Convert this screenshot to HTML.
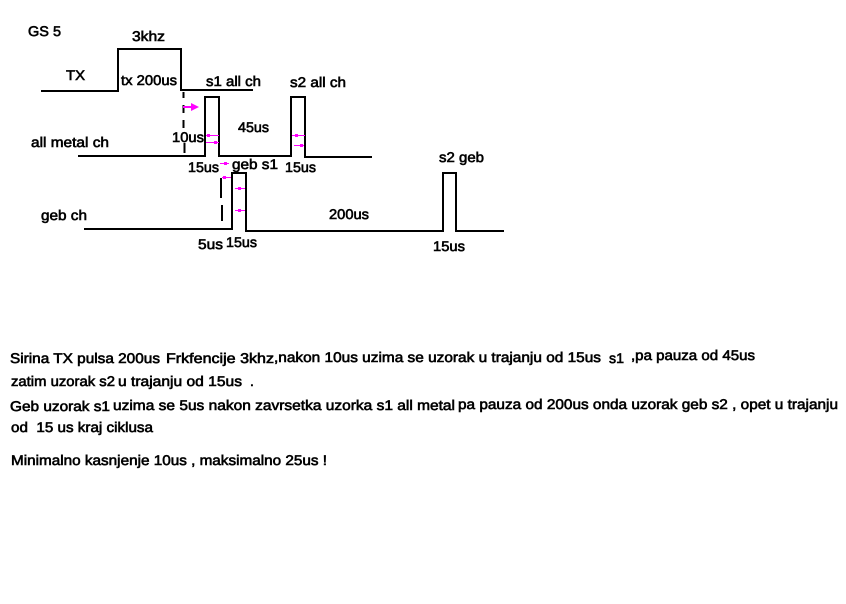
<!DOCTYPE html>
<html>
<head>
<meta charset="utf-8">
<style>
html,body{margin:0;padding:0;background:#fff;width:846px;height:604px;overflow:hidden}
svg{display:block}
text{font-family:"Liberation Sans",Arial,sans-serif;font-size:14px;fill:#000;stroke:#000;stroke-width:.6px;white-space:pre;text-rendering:geometricPrecision}
.l{fill:none;stroke:#000;stroke-width:2}
.d{stroke:#000;stroke-width:2}
.m{fill:none;stroke:#f0f;stroke-width:1}
.t{fill:#f0f;stroke:none}
</style>
</head>
<body>
<svg width="846" height="604" viewBox="0 0 846 604" xmlns="http://www.w3.org/2000/svg">
<rect width="846" height="604" fill="#fff"/>
<!-- waveforms -->
<polyline class="l" points="41,91 118,91 118,49 181,49 181,90 253,90"/>
<polyline class="l" points="78,156 205,156 205,97 219,97 219,156 291,156 291,97 305,97 305,157 372,157"/>
<polyline class="l" points="84,229 232,229 232,173 246,173 246,231 443,231 443,173 456,173 456,231 504,231"/>
<!-- dashed -->
<line class="d" x1="183.500" y1="92" x2="183.500" y2="98"/>
<line class="d" x1="183.500" y1="105" x2="183.500" y2="113"/>
<line class="d" x1="183.500" y1="120" x2="183.500" y2="128"/>
<line class="d" x1="184.500" y1="143" x2="184.500" y2="153"/>
<line class="d" x1="221" y1="178" x2="221" y2="198"/>
<line class="d" x1="222" y1="205" x2="222" y2="221"/>
<!-- magenta marks -->
<line x1="183" y1="107" x2="197" y2="107" stroke="#f0f" stroke-width="2"/>
<polygon class="t" points="191,103 199,107 191,111"/>
<line class="m" x1="206" y1="135.500" x2="219" y2="135.500"/><rect class="t" x="207" y="134" width="3" height="3"/>
<line class="m" x1="206" y1="142.500" x2="219" y2="142.500"/><rect class="t" x="214" y="141" width="3" height="3"/>
<line class="m" x1="292" y1="135.500" x2="305" y2="135.500"/><rect class="t" x="295" y="134" width="3" height="3"/>
<line class="m" x1="294" y1="145.500" x2="304" y2="145.500"/><rect class="t" x="300" y="144" width="3" height="3"/>
<line class="m" x1="220" y1="163.500" x2="229" y2="163.500"/><rect class="t" x="224" y="162" width="3" height="3"/>
<line class="m" x1="222" y1="177.500" x2="231" y2="177.500"/><rect class="t" x="223" y="176" width="3" height="3"/>
<line class="m" x1="235" y1="188.500" x2="245" y2="188.500"/><rect class="t" x="238" y="187" width="3" height="3"/>
<line class="m" x1="235" y1="210.500" x2="245" y2="210.500"/><rect class="t" x="238" y="209" width="3" height="3"/>
<!-- diagram labels -->
<text x="28" y="36" textLength="33" lengthAdjust="spacingAndGlyphs">GS 5</text>
<text x="132" y="41" textLength="33" lengthAdjust="spacingAndGlyphs">3khz</text>
<text x="66" y="80" textLength="19" lengthAdjust="spacingAndGlyphs">TX</text>
<text x="121" y="85" textLength="56" lengthAdjust="spacingAndGlyphs">tx 200us</text>
<text x="206" y="86" textLength="55" lengthAdjust="spacingAndGlyphs">s1 all ch</text>
<text x="290" y="87" textLength="56" lengthAdjust="spacingAndGlyphs">s2 all ch</text>
<text x="31" y="147" textLength="78" lengthAdjust="spacingAndGlyphs">all metal ch</text>
<text x="172" y="142" textLength="32" lengthAdjust="spacingAndGlyphs">10us</text>
<text x="238" y="132" textLength="31" lengthAdjust="spacingAndGlyphs">45us</text>
<text x="188" y="172" textLength="31" lengthAdjust="spacingAndGlyphs">15us</text>
<text x="232" y="169" textLength="46" lengthAdjust="spacingAndGlyphs">geb s1</text>
<text x="285" y="172" textLength="31" lengthAdjust="spacingAndGlyphs">15us</text>
<text x="439" y="162" textLength="45" lengthAdjust="spacingAndGlyphs">s2 geb</text>
<text x="41" y="220" textLength="46" lengthAdjust="spacingAndGlyphs">geb ch</text>
<text x="329" y="219" textLength="40" lengthAdjust="spacingAndGlyphs">200us</text>
<text x="198" y="249" textLength="25" lengthAdjust="spacingAndGlyphs">5us</text>
<text x="226" y="247" textLength="31" lengthAdjust="spacingAndGlyphs">15us</text>
<text x="433" y="251" textLength="32" lengthAdjust="spacingAndGlyphs">15us</text>
<!-- paragraph -->
<text x="10" y="363" textLength="150" lengthAdjust="spacingAndGlyphs">Sirina TX pulsa 200us</text>
<text x="166" y="363" textLength="108" lengthAdjust="spacingAndGlyphs">Frkfencije 3khz</text>
<text x="274" y="362" textLength="327" lengthAdjust="spacingAndGlyphs">,nakon 10us uzima se uzorak u trajanju od 15us</text>
<text x="609" y="363" textLength="15" lengthAdjust="spacingAndGlyphs">s1</text>
<text x="631" y="360" textLength="124" lengthAdjust="spacingAndGlyphs">,pa pauza od 45us</text>
<text x="11" y="386" textLength="104" lengthAdjust="spacingAndGlyphs">zatim uzorak s2</text>
<text x="118" y="386" textLength="124" lengthAdjust="spacingAndGlyphs">u trajanju od 15us</text>
<text x="250" y="386">.</text>
<text x="10" y="411" textLength="100" lengthAdjust="spacingAndGlyphs">Geb uzorak s1</text>
<text x="113" y="410" textLength="342" lengthAdjust="spacingAndGlyphs">uzima se 5us nakon zavrsetka uzorka s1 all metal</text>
<text x="458" y="409" textLength="380" lengthAdjust="spacingAndGlyphs">pa pauza od 200us onda uzorak geb s2 , opet u trajanju</text>
<text x="11" y="432" textLength="142" lengthAdjust="spacingAndGlyphs">od  15 us kraj ciklusa</text>
<text x="11" y="465" textLength="316" lengthAdjust="spacingAndGlyphs">Minimalno kasnjenje 10us , maksimalno 25us !</text>
</svg>
</body>
</html>
